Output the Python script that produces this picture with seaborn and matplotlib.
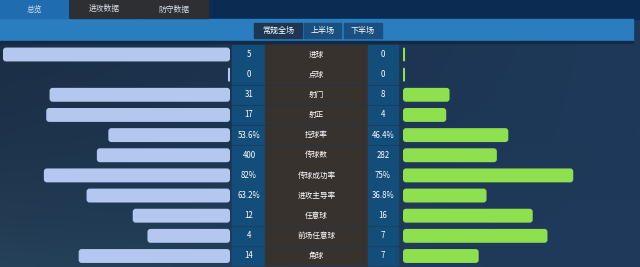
import numpy as np
import pandas as pd
import matplotlib
matplotlib.use("Agg")
import matplotlib.pyplot as plt
from matplotlib.patches import Rectangle, FancyBboxPatch
import seaborn as sns

sns.set_theme(style="white")
plt.rcParams['font.family'] = ['Noto Sans CJK SC', 'DejaVu Sans']

# ---- data ----
stats = ["进球", "点球", "射门", "射正", "控球率", "传球数", "传球成功率",
         "进攻主导率", "任意球", "前场任意球", "角球"]
home_vals = [5, 0, 31, 17, 53.6, 400, 82, 63.2, 12, 4, 14]
away_vals = [0, 0, 8, 4, 46.4, 282, 75, 36.8, 16, 7, 7]
is_pct = [False, False, False, False, True, False, True, True, False, False, False]
tabs = ["总览", "进攻数据", "防守数据"]
buttons = ["常规全场", "上半场", "下半场"]

def fmt(v, pct):
    if pct:
        return (f"{v:g}%")
    return f"{int(v)}"

def frac(a, b, pct):
    if pct:
        return a / 100.0
    tot = a + b
    return 0.0 if tot == 0 else a / tot

home_frac = [max(frac(h, a, p), 0.009) for h, a, p in zip(home_vals, away_vals, is_pct)]
away_frac = [max(frac(a, h, p), 0.009) for h, a, p in zip(home_vals, away_vals, is_pct)]
df = pd.DataFrame({"stat": stats, "home": home_frac, "away": away_frac})

W, H = 640, 267
fig = plt.figure(figsize=(6.4, 2.67), dpi=100)

# ---- background / decor axes in pixel coords ----
bg = fig.add_axes([0, 0, 1, 1])
bg.set_xlim(0, W)
bg.set_ylim(H, 0)
bg.axis("off")
xx = np.linspace(0, 1, 200)[None, :, None]
yy = np.linspace(0, 1, 120)[:, None, None]
c_left = np.array([27, 46, 70]) / 255
c_right = np.array([30, 57, 90]) / 255
c_bl = np.array([40, 70, 94]) / 255
img = c_left * (1 - xx) + c_right * xx
img = img + (c_bl - c_left) * (yy ** 2) * (1 - xx) * 0.8
img = np.clip(img, 0, 1)
bg.imshow(img, extent=[0, W, H, 0], aspect="auto", zorder=0)

# top header band
bg.add_patch(Rectangle((0, 0), W, 19, color="#0c2b52", zorder=1))
tab_x = [(0, 68), (70, 69), (140, 68)]
tab_col = ["#1f6db0", "#2e2f33", "#2e2f33"]
for (x0, w), c, t in zip(tab_x, tab_col, tabs):
    bg.add_patch(Rectangle((x0, 0), w, 18, color=c, zorder=2))
    bg.text(x0 + w / 2, 9.5, t, color="#d8e0ea", fontsize=5.6,
            ha="center", va="center", zorder=3)
# blue strip
bg.add_patch(Rectangle((0, 19), 633, 22, color="#2a7ec0", zorder=1))
bg.add_patch(Rectangle((0, 41), 633, 2, color="#142a44", zorder=1))
btn_x = [(254, 48), (304, 37), (344, 38)]
btn_col = ["#1c3654", "#1b4f80", "#1b4f80"]
for (x0, w), c, t in zip(btn_x, btn_col, buttons):
    bg.add_patch(Rectangle((x0, 23), w, 15, color=c, zorder=2))
    bg.text(x0 + w / 2, 30.5, t, color="white", fontsize=5.8,
            ha="center", va="center", zorder=3)

# row cells and center texts
y0, pitch = 54.5, 20.15
for i, (s, h, a, p) in enumerate(zip(stats, home_vals, away_vals, is_pct)):
    yc = y0 + i * pitch
    top = yc - 9.3
    bg.add_patch(Rectangle((232, top), 33, 18.6, color="#134d7a", zorder=2))
    bg.add_patch(Rectangle((265, top), 103, 18.6, color="#38322f", zorder=2))
    bg.add_patch(Rectangle((368, top), 30, 18.6, color="#134d7a", zorder=2))
    bg.text(249, yc, fmt(h, p), color="white", fontsize=5.7,
            ha="center", va="center", zorder=3)
    bg.text(316.5, yc, s, color="white", fontsize=5.5,
            ha="center", va="center", zorder=3)
    bg.text(383, yc, fmt(a, p), color="white", fontsize=5.7,
            ha="center", va="center", zorder=3)

# ---- bar axes ----
top_px = y0 - pitch / 2
bot_px = y0 + 10 * pitch + pitch / 2
ax_b = 1 - bot_px / H
ax_h = (bot_px - top_px) / H
axL = fig.add_axes([3 / W, ax_b, 227 / W, ax_h])
axR = fig.add_axes([403 / W, ax_b, 227 / W, ax_h])

sns.barplot(data=df, x="home", y="stat", orient="h", ax=axL,
            color="#b3c7ef", width=0.69, saturation=1)
sns.barplot(data=df, x="away", y="stat", orient="h", ax=axR,
            color="#8fe04f", width=0.69, saturation=1)

for ax, inv in ((axL, True), (axR, False)):
    ax.set_xlim(1, 0) if inv else ax.set_xlim(0, 1)
    ax.set_ylim(10.5, -0.5)
    ax.axis("off")
    ax.patch.set_alpha(0)
    # round the bar corners
    aspect = (1 / (pitch)) / (1 / 227)
    for pt in list(ax.patches):
        x, y = pt.get_x(), pt.get_y()
        w, hgt = pt.get_width(), pt.get_height()
        r = min(3 / 227, abs(w) / 2)
        fb = FancyBboxPatch((x, y), w, hgt,
                            boxstyle=f"round,pad=0,rounding_size={r}",
                            mutation_aspect=aspect,
                            facecolor=pt.get_facecolor(), edgecolor="none",
                            zorder=3)
        pt.set_visible(False)
        ax.add_patch(fb)

fig.savefig("out.png", dpi=100)
